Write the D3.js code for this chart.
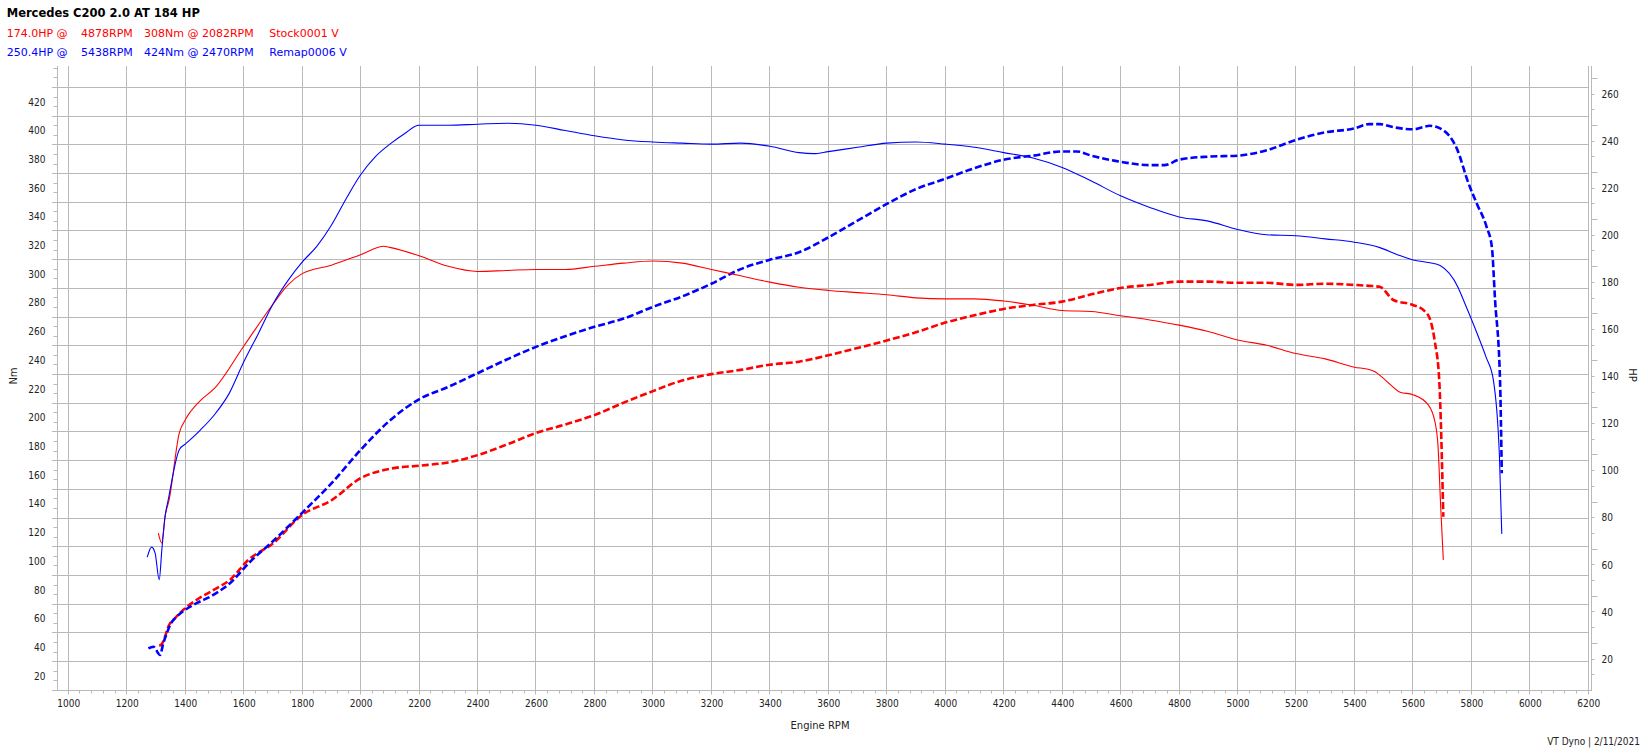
<!DOCTYPE html>
<html><head><meta charset="utf-8">
<script src="https://cdn.jsdelivr.net/npm/d3@7"></script>
<style>body{margin:0;background:#fff;} svg{display:block;}</style>
</head><body>
<svg id="c" width="1648" height="754"></svg>
<script>
const title = "Mercedes C200 2.0 AT 184 HP";
const legendStock = ["174.0HP @", "4878RPM", "308Nm @ 2082RPM", "Stock0001 V"];
const legendRemap = ["250.4HP @", "5438RPM", "424Nm @ 2470RPM", "Remap0006 V"];
const xTitle = "Engine RPM";
const yLeftTitle = "Nm";
const yRightTitle = "HP";
const footer = "VT Dyno | 2/11/2021";
const rpmTicks = d3.range(1000, 6201, 200);
const nmTicks = d3.range(20, 421, 20);
const hpTicks = d3.range(20, 261, 20);

const stockTqRpm = [1308,1320,1331,1345,1380,1400,1450,1500,1600,1700,1750,1800,1900,2000,2080,2100,2200,2300,2400,2500,2600,2700,2800,2900,3000,3100,3200,3300,3400,3500,3600,3700,3800,3900,4000,4100,4200,4300,4400,4500,4600,4700,4800,4900,5000,5100,5200,5300,5400,5450,5470,5504,5556,5600,5652,5676,5686,5695,5704];
const stockTqNm = [119.6,112.6,131.1,142.8,189.5,198.3,211.5,220.3,249.7,279,292.2,300.3,306.2,313.5,319.4,318.6,312.8,305.4,301.8,302.5,303.2,303.2,305.4,307.6,309.1,307.6,303.2,298.8,294.4,290.8,288.6,287.1,285.6,283.4,282.7,282.7,281.2,278.3,274.6,273.9,271,268,264.4,260,254.1,250.4,244.6,240.9,235.1,233.5,232,226.5,217.7,216,209,196.5,179.8,137.9,100.9];

const stockHpRpm = [1311,1320,1331,1342,1365,1399,1439,1496,1553,1616,1700,1800,1900,2000,2100,2200,2300,2400,2500,2600,2700,2800,2900,3000,3100,3200,3300,3400,3500,3600,3700,3800,3900,4000,4100,4200,4300,4400,4500,4600,4700,4800,4900,5000,5100,5200,5300,5400,5450,5487,5533,5600,5640,5660,5675,5690,5704];
const stockHpVal = [25.6,26.4,29.5,33.7,37.3,41.5,45.1,49.3,53.6,62.1,69.1,81.2,87.4,96.8,100.8,102.1,103.5,106.6,111.1,116,119.6,123.6,128.9,133.8,138.3,141,142.8,145,146.3,149,152.1,155.3,158.8,162.9,166,168.7,170.4,171.8,174.9,177.6,178.9,180.3,180.3,179.8,179.8,178.9,179.4,178.9,178.5,178.1,172.5,170.4,167.8,163.8,154.8,138.5,80.4];

const remapTqRpm = [1270,1285,1297,1311,1320,1331,1342,1380,1400,1450,1500,1550,1600,1650,1700,1750,1800,1850,1900,1950,2000,2050,2100,2150,2200,2300,2400,2500,2600,2700,2800,2900,3000,3100,3200,3300,3400,3500,3550,3600,3700,3800,3900,4000,4100,4200,4300,4400,4500,4600,4700,4800,4900,5000,5100,5200,5300,5400,5487,5545,5601,5658,5693,5755,5772,5820,5850,5875,5896,5904];
const remapTqNm = [102.8,109.8,105.6,87.0,107.9,131.1,142.8,177.8,181.5,191,202,216.7,238.7,258.5,279,295.1,308.3,319.3,334,352.3,369.2,381.7,390.5,397.8,403.7,403.7,404.4,405.1,403.7,400,396.3,393.4,392,391.2,390.5,391.2,389,384.6,383.9,385.3,388.3,391.2,392,390.5,388.3,384.6,380.9,374.3,364.8,354.5,346.4,339.8,336.9,331.1,327.4,326.7,324.5,322.2,318.4,313.7,309.8,307.9,306,290.5,282.3,258.4,242.3,226.5,173,119];

const remapHpRpm = [1274,1291,1314,1325,1337,1348,1371,1399,1439,1496,1553,1622,1700,1800,1900,2000,2100,2200,2300,2400,2500,2600,2700,2800,2900,3000,3100,3200,3300,3400,3500,3600,3700,3800,3900,4000,4100,4200,4300,4400,4450,4500,4600,4700,4750,4800,4900,5000,5100,5200,5300,5400,5450,5487,5533,5601,5658,5693,5750,5790,5818,5852,5870,5881,5898,5904];
const remapHpVal = [24.5,25.2,21.7,26.7,30.9,34.4,38.0,40.8,43.7,47.2,52.2,61.3,70,82.1,94.6,108.8,121.3,130.3,135.6,141.4,147.2,152.6,157.1,161.1,164.6,169.6,174,179.4,185.6,189.6,192.8,199.1,206.2,213.3,219.6,224,228.5,232.1,233.8,235.6,235.6,233.8,231.2,229.8,229.8,232.1,233.4,233.8,236.1,240.5,243.7,245.4,247.2,247.2,245.9,245,246.5,245.4,236.9,222.1,213.6,203.6,195.1,172.5,138.5,98.9];

const svg = d3.select("#c");
const W = 1648, H = 754;
const L = 57.5, R = 1591.5, T = 66, B = 690.5;
const gridCol = "#b9b9b9";
const crisp = v => Math.round(v - 0.5) + 0.5;

const x = d3.scaleLinear().domain([1000, 6200]).range([68.3, 1588.3]);
const yNm = d3.scaleLinear().domain([20, 420]).range([676, 101.8]);
const yHp = d3.scaleLinear().domain([20, 260]).range([659, 94]);

svg.append("rect").attr("width", W).attr("height", H).attr("fill", "#fff");

const grid = svg.append("g").attr("stroke", gridCol).attr("stroke-width", 1).attr("fill", "none");
d3.range(30, 431, 20).forEach(v => {
  const y = crisp(yNm(v));
  grid.append("line").attr("x1", 52).attr("x2", crisp(x(6200)) + 0.5).attr("y1", y).attr("y2", y);
});
rpmTicks.forEach(r => {
  const xx = crisp(x(r));
  grid.append("line").attr("x1", xx).attr("x2", xx).attr("y1", T).attr("y2", B + 4);
});
d3.range(1000, 6200, 40).filter(r => r % 200 !== 0).forEach(r => {
  const xx = crisp(x(r));
  grid.append("line").attr("x1", xx).attr("x2", xx).attr("y1", B).attr("y2", B + 3);
});
d3.range(10, 431, 20).forEach(v => {
  [v + 20/3, v + 40/3].forEach(t => {
    if (t > 444) return;
    const y = crisp(yNm(t));
    grid.append("line").attr("x1", L - 4).attr("x2", L).attr("y1", y).attr("y2", y);
  });
});
d3.range(-1, 40).forEach(k => {
  const v = 260 - k * 20 / 3;
  if (v < 8) return;
  const y = crisp(yHp(v));
  const long = ((k % 3) + 3) % 3 === 2;
  grid.append("line").attr("x1", R).attr("x2", R + (long ? 6 : 3)).attr("y1", y).attr("y2", y);
});
grid.append("line").attr("x1", L).attr("x2", L).attr("y1", T).attr("y2", B);
grid.append("line").attr("x1", R).attr("x2", R).attr("y1", T).attr("y2", B);
grid.append("line").attr("x1", 52).attr("x2", R + 0.5).attr("y1", B).attr("y2", B);

const tickFont = "'DejaVu Sans Condensed', 'DejaVu Sans', sans-serif";
const ax = svg.append("g").attr("transform", `translate(0,${B})`)
  .call(d3.axisBottom(x).tickValues(rpmTicks).tickSize(0).tickPadding(12).tickFormat(d3.format("d")));
const ay = svg.append("g").attr("transform", `translate(${L},0)`)
  .call(d3.axisLeft(yNm).tickValues(nmTicks).tickSize(0).tickPadding(12).tickFormat(d3.format("d")));
const ar = svg.append("g").attr("transform", `translate(${R},0)`)
  .call(d3.axisRight(yHp).tickValues(hpTicks).tickSize(0).tickPadding(10).tickFormat(d3.format("d")));
[ax, ay, ar].forEach(g => {
  g.select(".domain").remove();
  g.selectAll(".tick line").remove();
  g.selectAll("text").attr("font-family", tickFont).attr("font-size", 10).attr("fill", "#222");
});
ax.selectAll("text").attr("dy", "0.45em");

const line = (xs, ys, yScale) => d3.line()
  .x((d, i) => x(xs[i])).y((d, i) => yScale(ys[i]))
  .curve(d3.curveMonotoneX)(xs);

const plot = svg.append("g").attr("fill", "none").attr("stroke-linejoin", "round");
plot.append("path").attr("d", line(stockHpRpm, stockHpVal, yHp))
  .attr("stroke", "#ff0000").attr("stroke-width", 2.6).attr("stroke-dasharray", "7,3");
plot.append("path").attr("d", line(remapHpRpm, remapHpVal, yHp))
  .attr("stroke", "#0000ff").attr("stroke-width", 2.6).attr("stroke-dasharray", "7,3");
plot.append("path").attr("d", line(stockTqRpm, stockTqNm, yNm))
  .attr("stroke", "#ff0000").attr("stroke-width", 1.1);
plot.append("path").attr("d", line(remapTqRpm, remapTqNm, yNm))
  .attr("stroke", "#0000ff").attr("stroke-width", 1.1);

const mainFont = "'DejaVu Sans', sans-serif";
svg.append("text").attr("x", 6.7).attr("y", 17.3).text(title)
  .attr("font-family", mainFont).attr("font-weight", "bold").attr("font-size", 11.5).attr("fill", "#000");
const segX = [6.7, 81, 144, 269.3];
[[legendStock, 36.7, "#ff0000"], [legendRemap, 55.7, "#0000ff"]].forEach(([segs, y, col]) => {
  segs.forEach((s, i) => {
    svg.append("text").attr("x", segX[i]).attr("y", y).text(s)
      .attr("font-family", mainFont).attr("font-size", 11).attr("fill", col);
  });
});

svg.append("text").attr("x", 820).attr("y", 729).attr("text-anchor", "middle").text(xTitle)
  .attr("font-family", mainFont).attr("font-size", 10).attr("fill", "#222");
svg.append("text").attr("transform", "translate(16.5,376) rotate(-90)").attr("text-anchor", "middle").text(yLeftTitle)
  .attr("font-family", mainFont).attr("font-size", 10).attr("fill", "#222");
svg.append("text").attr("transform", "translate(1628.5,375) rotate(90)").attr("text-anchor", "middle").text(yRightTitle)
  .attr("font-family", mainFont).attr("font-size", 10).attr("fill", "#222");
svg.append("text").attr("x", 1640).attr("y", 745).attr("text-anchor", "end").text(footer)
  .attr("font-family", tickFont).attr("font-size", 10).attr("fill", "#222");
</script>
</body></html>
